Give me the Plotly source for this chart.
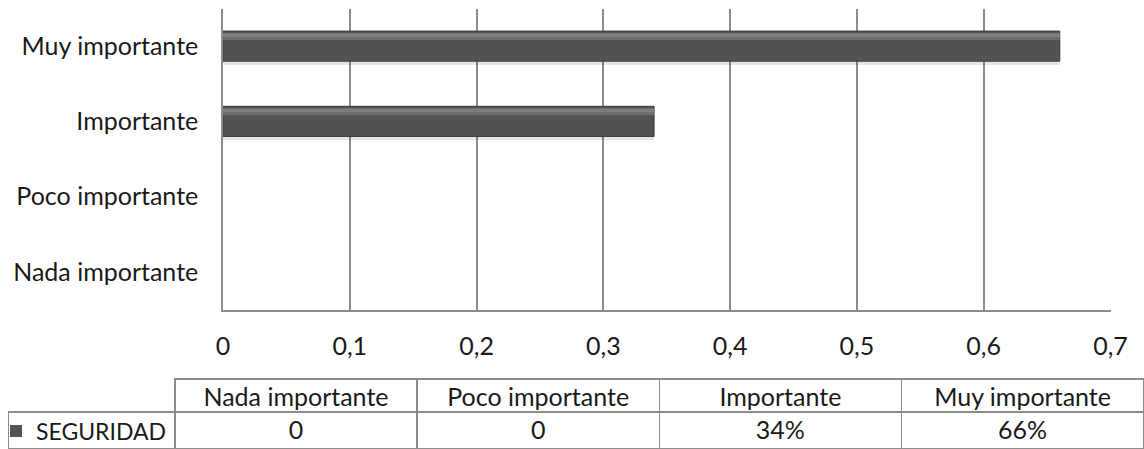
import plotly.graph_objects as go

# Survey data: importance rating for SEGURIDAD
categories = ["Nada importante", "Poco importante", "Importante", "Muy importante"]
values = [0, 0, 0.34, 0.66]
table_labels = ["0", "0", "34%", "66%"]
series_name = "SEGURIDAD"
x_ticks = [0, 0.1, 0.2, 0.3, 0.4, 0.5, 0.6, 0.7]

W, H = 1144, 449
FONT = "Lato"
FS = 25
GRID = "#8c8c8c"
TXT = "#1a1a1a"

# no outline on empty bars so nothing shows at zero
edge = [1 if v > 0 else 0 for v in values]

fig = go.Figure()

# soft drop shadow under each bar
fig.add_trace(go.Bar(
    y=categories, x=values, orientation="h",
    width=0.42, offset=-0.25,
    marker=dict(color="rgba(0,0,0,0.10)", line=dict(width=0)),
    hoverinfo="skip", showlegend=False,
))
# main bar body (also provides the legend key in the table)
fig.add_trace(go.Bar(
    y=categories, x=values, orientation="h", name=series_name,
    width=0.4, offset=-0.2,
    marker=dict(color="#525252", line=dict(color="#3a3a3a", width=edge)),
    showlegend=True,
))
# bevel highlight along the upper edge
fig.add_trace(go.Bar(
    y=categories, x=values, orientation="h",
    width=0.09, offset=0.08,
    marker=dict(color="#6c6c6c", line=dict(width=0)),
    hoverinfo="skip", showlegend=False,
))
fig.add_trace(go.Bar(
    y=categories, x=values, orientation="h",
    width=0.05, offset=0.12,
    marker=dict(color="#7e7e7e", line=dict(width=0)),
    hoverinfo="skip", showlegend=False,
))

# data table beneath the chart; the empty corner cell has no border or fill
fig.add_trace(go.Table(
    domain=dict(x=[8.7 / W, 1.0], y=[0, 1 - 379 / H]),
    columnwidth=[166, 242, 242, 242, 242],
    header=dict(
        values=[""] + categories,
        height=33,
        align="center",
        fill=dict(color=["rgba(0,0,0,0)", "white", "white", "white", "white"]),
        line=dict(color=GRID, width=[0, 1.5, 1.5, 1.5, 1.5]),
        font=dict(family=FONT, size=FS, color=TXT),
    ),
    cells=dict(
        values=[[""]] + [[v] for v in table_labels],
        height=37,
        align="center",
        fill=dict(color="white"),
        line=dict(color=GRID, width=1.5),
        font=dict(family=FONT, size=FS, color=TXT),
    ),
))

fig.update_layout(
    width=W, height=H,
    margin=dict(l=0, r=0, t=0, b=0, autoexpand=False),
    paper_bgcolor="white", plot_bgcolor="white",
    barmode="overlay",
    separators=",.",
    font=dict(family=FONT, size=FS, color=TXT),
    showlegend=True,
    legend=dict(
        x=-4 / W, xanchor="left",
        y=1 - 431 / H, yanchor="middle",
        bgcolor="rgba(0,0,0,0)", borderwidth=0,
        font=dict(family=FONT, size=23, color=TXT),
        itemwidth=30,
    ),
    xaxis=dict(
        domain=[223 / W, 1110.5 / W],
        range=[0, 0.7],
        tickvals=x_ticks,
        showgrid=True, gridcolor=GRID, gridwidth=1.5,
        zeroline=False,
        showline=True, linecolor=GRID, linewidth=1.5,
        ticks="", ticklabelstandoff=14,
        automargin=False,
        fixedrange=True,
    ),
    yaxis=dict(
        domain=[1 - 309.5 / H, 1 - 8.5 / H],
        type="category",
        categoryorder="array", categoryarray=categories,
        showgrid=False, zeroline=False,
        showline=True, linecolor=GRID, linewidth=1.5,
        ticks="", ticklabelstandoff=18,
        automargin=False,
        fixedrange=True,
    ),
)

fig.write_html("out.html")
